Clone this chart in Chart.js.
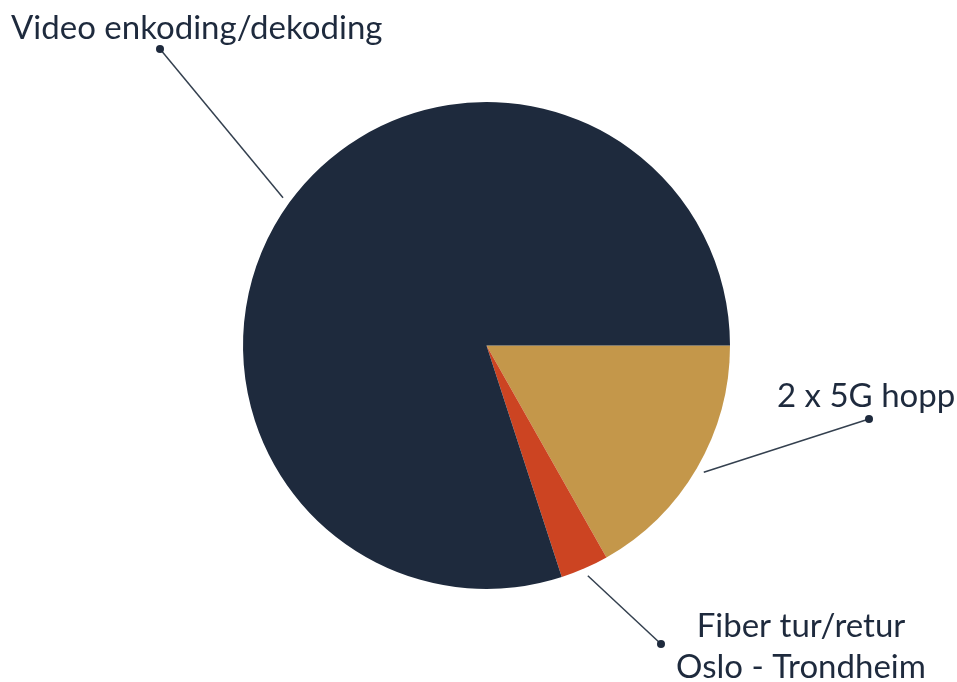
<!DOCTYPE html>
<html>
<head>
<meta charset="utf-8">
<script src="https://cdn.jsdelivr.net/npm/chart.js@4"></script>
<style>
  html, body { margin: 0; padding: 0; background: #fff; }
  #wrap { width: 957px; height: 682px; position: relative; }
</style>
</head>
<body>
<div id="wrap"><canvas id="pie"></canvas></div>
<script>
// slices, clockwise from 3 o'clock
const categories = ['2 x 5G hopp', 'Fiber tur/retur Oslo - Trondheim', 'Video enkoding/dekoding'];
const shares = [16.8, 3.2, 80.0];
const colors = ['#c4974a', '#cc4422', '#1e2a3d'];

// callout text for each slice (lines), placement of text and dot
const calloutLines = [['2 x 5G hopp'], ['Fiber tur/retur', 'Oslo - Trondheim'], ['Video enkoding/dekoding']];
const calloutText = [
  { x: 777, y: 407, align: 'left' },
  { x: 801, y: 637, align: 'center' },
  { x: 11, y: 39, align: 'left' }
];
const calloutDot = [{ x: 869, y: 419 }, { x: 661, y: 644 }, { x: 160, y: 49 }];

const calloutPlugin = {
  id: 'callouts',
  afterDatasetsDraw(chart) {
    const ctx = chart.ctx;
    const arcs = chart.getDatasetMeta(0).data;
    ctx.save();
    arcs.forEach((arc, i) => {
      const p = arc.getProps(['x', 'y', 'startAngle', 'endAngle', 'outerRadius'], true);
      const mid = (p.startAngle + p.endAngle) / 2;
      const r = p.outerRadius + 8;
      const sx = p.x + Math.cos(mid) * r;
      const sy = p.y + Math.sin(mid) * r;
      const d = calloutDot[i];
      ctx.strokeStyle = '#34404f';
      ctx.lineWidth = 1.5;
      ctx.beginPath();
      ctx.moveTo(sx, sy);
      ctx.lineTo(d.x, d.y);
      ctx.stroke();
      ctx.fillStyle = '#1e2a3d';
      ctx.beginPath();
      ctx.arc(d.x, d.y, 4, 0, Math.PI * 2);
      ctx.fill();

      const t = calloutText[i];
      ctx.font = '33px Lato';
      ctx.textAlign = t.align;
      ctx.textBaseline = 'alphabetic';
      ctx.fillStyle = '#1e2a3d';
      calloutLines[i].forEach((line, k) => {
        ctx.fillText(line, t.x, t.y + k * 41);
      });
    });
    ctx.restore();
  }
};

new Chart(document.getElementById('pie'), {
  type: 'pie',
  data: {
    labels: categories,
    datasets: [{
      data: shares,
      backgroundColor: colors,
      borderWidth: 0
    }]
  },
  options: {
    responsive: true,
    maintainAspectRatio: false,
    animation: false,
    rotation: 90,
    layout: { padding: { left: 243, right: 227, top: 102, bottom: 93 } },
    plugins: {
      legend: { display: false },
      tooltip: { enabled: false }
    }
  },
  plugins: [calloutPlugin]
});
</script>
</body>
</html>
